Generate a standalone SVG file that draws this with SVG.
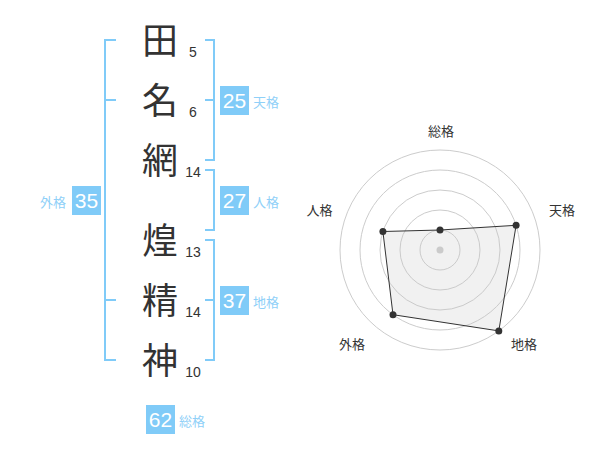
<svg xmlns="http://www.w3.org/2000/svg" width="600" height="470" viewBox="0 0 600 470">
<style>
.ch{font-family:"Noto Sans CJK JP","Noto Sans CJK SC",sans-serif;font-size:36px;fill:#333;text-anchor:middle}
.num{font-family:"Liberation Sans",Arial,sans-serif;font-size:14px;fill:#333;text-anchor:middle}
.br{fill:none;stroke:#80cbf8;stroke-width:2}
.box{fill:#80cbf8}
.bt{font-family:"Liberation Sans",Arial,sans-serif;font-size:21px;fill:#fff;text-anchor:middle}
.lb{font-family:"Noto Sans CJK JP","Noto Sans CJK SC",sans-serif;font-size:13px;fill:#8fd0f8}
.rl{font-family:"Noto Sans CJK JP","Noto Sans CJK SC",sans-serif;font-size:13px;fill:#333;text-anchor:middle}
.ring{fill:none;stroke:#ccc;stroke-width:1}
.dot{fill:#333}
</style>
<rect width="600" height="470" fill="#fff"/>
<g id="connectors">
<path class="br" d="M116,40 H105 V360 H116 M105,100 H116 M105,300 H116"/>
<path class="br" d="M205,40 H214 V160 H205 M205,100 H214"/>
<path class="br" d="M205,170 H214 V230 H205"/>
<path class="br" d="M205,240 H214 V360 H205 M205,300 H214"/>
</g>
<g id="char1"><text class="ch" x="160" y="54">田</text><text class="num" x="193" y="57">5</text></g>
<g id="char2"><text class="ch" x="160" y="114">名</text><text class="num" x="193" y="117">6</text></g>
<g id="char3"><text class="ch" x="160" y="174">網</text><text class="num" x="193" y="177">14</text></g>
<g id="char4"><text class="ch" x="160" y="254">煌</text><text class="num" x="193" y="257">13</text></g>
<g id="char5"><text class="ch" x="160" y="314">精</text><text class="num" x="193" y="317">14</text></g>
<g id="char6"><text class="ch" x="160" y="374">神</text><text class="num" x="193" y="377">10</text></g>
<g id="tenkaku"><rect class="box" x="220" y="86" width="29" height="29"/><text class="bt" x="234.5" y="108">25</text><text class="lb" x="253" y="107">天格</text></g>
<g id="jinkaku"><rect class="box" x="220" y="186" width="29" height="29"/><text class="bt" x="234.5" y="208">27</text><text class="lb" x="253" y="207">人格</text></g>
<g id="chikaku"><rect class="box" x="220" y="286" width="29" height="29"/><text class="bt" x="234.5" y="308">37</text><text class="lb" x="253" y="307">地格</text></g>
<g id="gaikaku"><rect class="box" x="72" y="186" width="29" height="29"/><text class="bt" x="86.5" y="208">35</text><text class="lb" x="40" y="207">外格</text></g>
<g id="soukaku"><rect class="box" x="146" y="405" width="29" height="29"/><text class="bt" x="160.5" y="427">62</text><text class="lb" x="179" y="426">総格</text></g>
<g id="radar">
<circle class="ring" cx="440" cy="250" r="20"/>
<circle class="ring" cx="440" cy="250" r="40"/>
<circle class="ring" cx="440" cy="250" r="60"/>
<circle class="ring" cx="440" cy="250" r="80"/>
<circle class="ring" cx="440" cy="250" r="100"/>
<circle cx="440" cy="250" r="3.5" fill="#ccc"/>
<polygon points="440,230 516.1,225.3 498.8,330.9 393,314.7 382.9,231.5" fill="#c8c8c8" fill-opacity="0.25" stroke="#333" stroke-width="1"/>
<circle class="dot" cx="440" cy="230" r="3.5"/>
<circle class="dot" cx="516.1" cy="225.3" r="3.5"/>
<circle class="dot" cx="498.8" cy="330.9" r="3.5"/>
<circle class="dot" cx="393" cy="314.7" r="3.5"/>
<circle class="dot" cx="382.9" cy="231.5" r="3.5"/>
<text class="rl" x="441" y="136">総格</text>
<text class="rl" x="562" y="215">天格</text>
<text class="rl" x="319.5" y="215">人格</text>
<text class="rl" x="352" y="348.5">外格</text>
<text class="rl" x="524" y="348.5">地格</text>
</g>
</svg>
